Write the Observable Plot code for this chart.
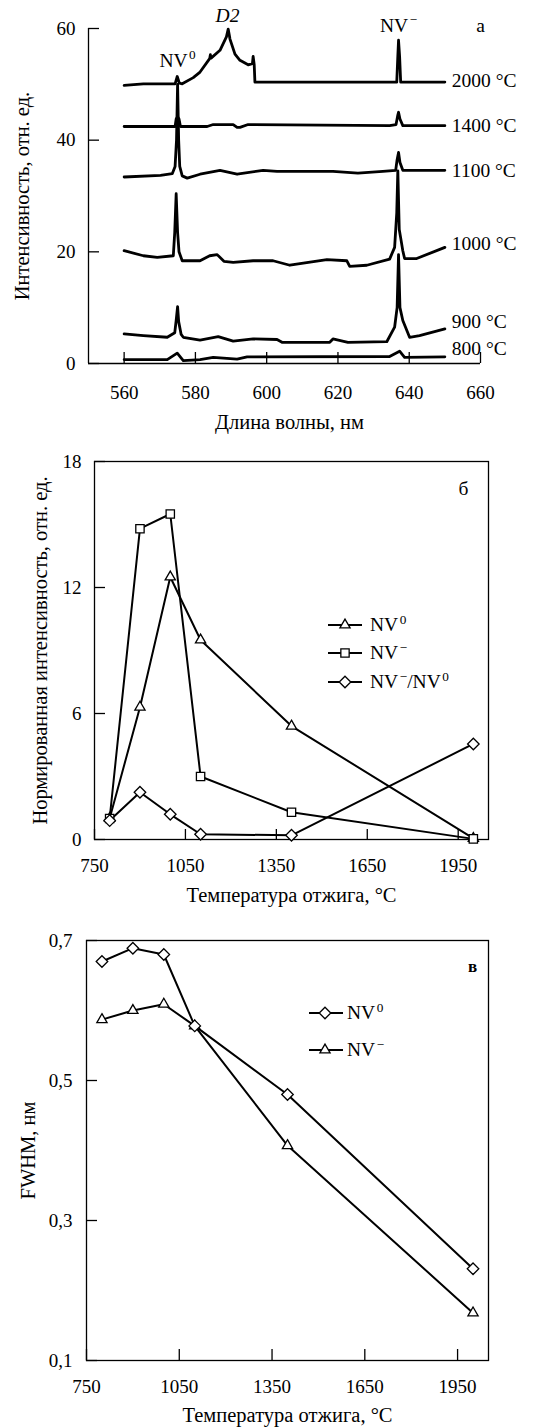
<!DOCTYPE html>
<html><head><meta charset="utf-8">
<script src="https://cdn.jsdelivr.net/npm/d3@7"></script>
<script src="https://cdn.jsdelivr.net/npm/@observablehq/plot@0.6"></script>
<style>
body{margin:0;background:#fff;}
#chart{width:558px;height:1427px;position:relative;background:#fff;}
#chart svg{position:absolute;left:0;}
</style></head><body><div id="chart"></div><script>
// ---------- Panel а: spectra (wavelength nm, intensity) ----------
const spec2000 = [[560,49.8],[565.4,50.1],[574.3,50.1],[574.9,51.4],[575.5,50.2],[576.3,50.1],[579.4,51.2],[581.3,52.2],[584.0,54.6],[584.2,55.3],[584.4,54.7],[586.9,56.1],[588.7,58.5],[589.2,59.9],[589.7,58.1],[591.1,55.4],[592.5,54.3],[594.8,53.5],[596.0,53.7],[596.2,55.0],[596.5,53.5],[596.7,50.4],[636.5,50.4],[636.8,55.0],[637.0,57.9],[637.3,55.0],[637.6,50.4],[650,50.4]];
const spec1400 = [[560,42.45],[574.3,42.45],[574.6,43.8],[575.0,44.2],[575.4,43.8],[575.8,42.45],[583.3,42.45],[585.0,42.8],[590.6,42.8],[591.7,42.3],[592.5,42.3],[594.8,42.8],[634.5,42.6],[636.3,42.8],[636.8,44.5],[637.0,45.0],[637.4,43.8],[638.2,42.6],[650,42.6]];
const spec1100 = [[560,33.4],[570.2,33.7],[573.5,34.0],[574.3,35.3],[574.7,40.0],[575.0,50.0],[575.3,40.0],[575.6,35.3],[576.3,33.6],[577.7,33.2],[581.3,33.9],[586.9,34.6],[591.7,33.9],[599.0,34.6],[602.9,34.4],[618.6,34.4],[625.6,34.1],[632.6,34.4],[636.2,34.6],[636.6,36.5],[637.0,37.8],[637.4,36.0],[638.2,34.6],[650,34.6]];
const spec1000 = [[560,20.2],[565.4,19.3],[569.3,19.0],[573.8,19.3],[574.2,23.5],[574.6,30.4],[575.0,23.5],[575.4,20.0],[576.3,18.4],[581.3,18.4],[584.0,19.3],[586.1,19.5],[588.0,18.3],[590.6,18.1],[596.2,18.4],[601.8,18.4],[606.5,17.6],[616.9,18.6],[622.5,18.4],[623.3,17.4],[628.1,17.6],[634.5,18.7],[635.9,20.8],[636.5,27.0],[636.8,34.5],[637.2,24.0],[637.6,22.5],[638.2,20.2],[638.7,18.8],[642.1,18.8],[650,20.8]];
const spec900 = [[560,5.3],[565.4,5.0],[572.1,4.7],[574.2,5.5],[574.6,7.7],[575.0,10.2],[575.3,7.5],[576.0,5.2],[576.6,4.7],[581.3,4.2],[586.4,4.8],[590.6,4.0],[596.2,4.4],[602.9,4.3],[604.3,3.8],[617.7,3.8],[618.6,4.4],[622.8,3.8],[633.7,3.9],[635.9,6.5],[636.6,10.0],[637.0,19.5],[637.4,10.0],[638.2,7.7],[640.1,4.7],[642.9,5.0],[650,6.2]];
const spec800 = [[560,0.7],[572.1,0.7],[574.9,1.85],[576.6,0.5],[581.3,0.7],[585.0,1.1],[591.7,0.8],[594.5,1.2],[634.5,1.25],[637.3,2.2],[638.7,1.1],[650,1.2]];
const specNames = ["2000 °C","1400 °C","1100 °C","1000 °C","900 °C","800 °C"];
const specList = [spec2000, spec1400, spec1100, spec1000, spec900, spec800];
const peakNames = ["NV⁰","D2","NV⁻"];
const peakWl = [575, 589, 637];
const wlTicks = [560,580,600,620,640,660];
const intTicks = [0,20,40,60];

// ---------- Panel б: normalized intensity vs annealing temperature ----------
const temps = [800,900,1000,1100,1400,2000];
const normNV0 = [1.0,6.3,12.5,9.5,5.4,0.05];
const normNVm = [1.0,14.8,15.5,3.0,1.3,0.03];
const normRatio = [0.9,2.25,1.2,0.25,0.2,4.55];
const tempTicks = [750,1050,1350,1650,1950];
const normTicks = [0,6,12,18];

// ---------- Panel в: FWHM vs annealing temperature ----------
const fwhmNV0 = [0.670,0.689,0.680,0.578,0.480,0.231];
const fwhmNVm = [0.587,0.600,0.609,0.578,0.407,0.168];
const fwhmTicks = [0.1,0.3,0.5,0.7];

// ---------- helpers ----------
const FONT = "Liberation Serif";
const TICK_FS = 19, TITLE_FS = 20.5, LABEL_FS = 19.5;
const baseStyle = {fontFamily: FONT, fontSize: "18px", color: "black", background: "transparent", overflow: "visible"};
const SVGNS = "http://www.w3.org/2000/svg";
const T = {fontFamily: FONT, textAnchor: "middle", lineAnchor: "middle"};

function supify(svg) {
  svg.querySelectorAll("text").forEach(t => {
    const s = t.textContent;
    if (!/[⁰⁻]/.test(s) || t.children.length) return;
    t.textContent = "";
    let raised = false;
    for (const part of s.match(/[⁰⁻]+|[^⁰⁻]+/g)) {
      const ts = document.createElementNS(SVGNS, "tspan");
      if (/[⁰⁻]/.test(part)) {
        ts.textContent = part.replace(/⁰/g, "0").replace(/⁻/g, "−");
        ts.setAttribute("font-size", "0.68em");
        ts.setAttribute("dy", "-0.55em");
        ts.setAttribute("dx", "1.5");
        raised = true;
      } else {
        ts.textContent = part;
        if (raised) { ts.setAttribute("dy", "0.374em"); raised = false; }
      }
      t.appendChild(ts);
    }
  });
  return svg;
}

function legendMark(items, {x0, x1, xm, xt, ys}) {
  return () => {
    const g = d3.create("svg:g");
    items.forEach((it, i) => {
      const y = ys[i];
      g.append("line").attr("x1", x0).attr("x2", x1).attr("y1", y).attr("y2", y)
        .attr("stroke", "black").attr("stroke-width", 2);
      g.append("path").attr("d", d3.symbol(it.sym, it.size)())
        .attr("transform", `translate(${xm},${y})`)
        .attr("fill", "white").attr("stroke", "black").attr("stroke-width", 1.3);
      g.append("text").attr("x", xt).attr("y", y).attr("dy", "0.32em")
        .attr("text-anchor", "start").attr("font-family", FONT)
        .attr("fill", "black").attr("font-size", LABEL_FS).text(it.label);
    });
    return g.node();
  };
}

const chart = document.getElementById("chart");
function place(svg, top) { svg.style.top = top + "px"; chart.appendChild(supify(svg)); }

// ---------- Panel а ----------
{
  const W = 558, H = 440, mL = 88, mR = 78, mT = 28, mB = 77;
  const fw = W - mL - mR, fh = H - mT - mB;
  const specData = specList.flatMap((s, i) => s.map(([x, y]) => ({x, y, t: specNames[i]})));
  const labelDy = [-1, 0, 0, -4, -7, -8];
  const peakDy = [32, -13, -3];
  const svg = Plot.plot({
    width: W, height: H, marginLeft: mL, marginRight: mR, marginTop: mT, marginBottom: mB,
    style: baseStyle,
    x: {domain: [550, 660], axis: null},
    y: {domain: [0, 60], axis: null},
    marks: [
      Plot.axisX({ticks: wlTicks, tickSize: 0, tickPadding: 22, tickFormat: d => String(d), label: null, fontSize: TICK_FS, fontFamily: FONT}),
      Plot.axisY({ticks: intTicks, tickSize: 0, tickPadding: 13, tickFormat: d => String(d), label: null, fontSize: TICK_FS, fontFamily: FONT}),
      Plot.ruleY([0], {strokeWidth: 1.3}),
      Plot.ruleX([550], {strokeWidth: 1.3}),
      Plot.ruleX(wlTicks, {x: d => d, insetTop: fh - 11, strokeWidth: 1.3}),
      Plot.ruleY(intTicks, {y: d => d, insetRight: fw - 11, strokeWidth: 1.3}),
      Plot.line(specData, {x: "x", y: "y", z: "t", stroke: "black", strokeWidth: 2.8, strokeLinejoin: "round"}),
      ...specList.map((s, i) => Plot.text([s], {...T, x: d => d[d.length - 1][0], y: d => d[d.length - 1][1], text: () => specNames[i], textAnchor: "start", dx: 7, dy: labelDy[i], fontSize: LABEL_FS})),
      ...peakNames.map((n, i) => Plot.text([n], {...T, x: () => peakWl[i], frameAnchor: "top", text: d => d, dy: peakDy[i], fontSize: LABEL_FS, fontStyle: n === "D2" ? "italic" : "normal"})),
      Plot.text(["а"], {...T, frameAnchor: "top-right", text: d => d, dy: -3, fontSize: LABEL_FS}),
      Plot.text(["Длина волны, нм"], {...T, frameAnchor: "bottom", text: d => d, dy: 59, dx: 5, fontSize: TITLE_FS}),
      Plot.text(["Интенсивность, отн. ед."], {...T, frameAnchor: "left", text: d => d, rotate: -90, dx: -66, fontSize: TITLE_FS})
    ]
  });
  place(svg, 0);
}

// ---------- Panel б ----------
{
  const W = 558, H = 470, mL = 94, mR = 70, mT = 21, mB = 71;
  const fw = W - mL - mR, fh = H - mT - mB;
  const rows = temps.map((t, i) => ({t, nv0: normNV0[i], nvm: normNVm[i], r: normRatio[i]}));
  const svg = Plot.plot({
    width: W, height: H, marginLeft: mL, marginRight: mR, marginTop: mT, marginBottom: mB,
    style: baseStyle,
    x: {domain: [750, 2050], axis: null},
    y: {domain: [0, 18], axis: null},
    marks: [
      Plot.axisX({ticks: tempTicks, tickSize: 0, tickPadding: 19, tickFormat: d => String(d), label: null, fontSize: TICK_FS, fontFamily: FONT}),
      Plot.axisY({ticks: normTicks, tickSize: 0, tickPadding: 13, tickFormat: d => String(d), label: null, fontSize: TICK_FS, fontFamily: FONT}),
      Plot.frame({strokeWidth: 1.3}),
      Plot.ruleX(tempTicks, {x: d => d, insetTop: fh - 10, strokeWidth: 1.3}),
      Plot.ruleY(normTicks, {y: d => d, insetRight: fw - 11, strokeWidth: 1.3}),
      Plot.line(rows, {x: "t", y: "nv0", stroke: "black", strokeWidth: 2}),
      Plot.line(rows, {x: "t", y: "nvm", stroke: "black", strokeWidth: 2}),
      Plot.line(rows, {x: "t", y: "r", stroke: "black", strokeWidth: 2}),
      Plot.dot(rows, {x: "t", y: "nv0", symbol: "triangle", r: 3.8, fill: "white", stroke: "black", strokeWidth: 1.3}),
      Plot.dot(rows, {x: "t", y: "nvm", symbol: "square", r: 4.7, fill: "white", stroke: "black", strokeWidth: 1.3}),
      Plot.dot(rows, {x: "t", y: "r", symbol: "diamond2", r: 5.2, fill: "white", stroke: "black", strokeWidth: 1.3}),
      legendMark([
        {sym: d3.symbolTriangle, size: 45, label: "NV⁰"},
        {sym: d3.symbolSquare, size: 69, label: "NV⁻"},
        {sym: d3.symbolDiamond2, size: 85, label: "NV⁻/NV⁰"}
      ], {x0: 328, x1: 362, xm: 345, xt: 370, ys: [185, 213, 242]}),
      Plot.text(["б"], {...T, frameAnchor: "top-right", text: d => d, dx: -25, dy: 27, fontSize: LABEL_FS}),
      Plot.text(["Температура отжига, °C"], {...T, frameAnchor: "bottom", text: d => d, dy: 56, fontSize: TITLE_FS}),
      Plot.text(["Нормированная интенсивность, отн. ед."], {...T, frameAnchor: "left", text: d => d, rotate: -90, dx: -54, fontSize: TITLE_FS})
    ]
  });
  place(svg, 440);
}

// ---------- Panel в ----------
{
  const W = 558, H = 517, mL = 86, mR = 70, mT = 30, mB = 67;
  const fw = W - mL - mR, fh = H - mT - mB;
  const rows = temps.map((t, i) => ({t, nv0: fwhmNV0[i], nvm: fwhmNVm[i]}));
  const comma = d => d.toFixed(1).replace(".", ",");
  const svg = Plot.plot({
    width: W, height: H, marginLeft: mL, marginRight: mR, marginTop: mT, marginBottom: mB,
    style: baseStyle,
    x: {domain: [750, 2050], axis: null},
    y: {domain: [0.1, 0.7], axis: null},
    marks: [
      Plot.axisX({ticks: tempTicks, tickSize: 0, tickPadding: 19, tickFormat: d => String(d), label: null, fontSize: TICK_FS, fontFamily: FONT}),
      Plot.axisY({ticks: fwhmTicks, tickSize: 0, tickPadding: 14, tickFormat: comma, label: null, fontSize: TICK_FS, fontFamily: FONT}),
      Plot.frame({strokeWidth: 1.3}),
      Plot.ruleX(tempTicks, {x: d => d, insetTop: fh - 11, strokeWidth: 1.3}),
      Plot.ruleY(fwhmTicks, {y: d => d, insetRight: fw - 11, strokeWidth: 1.3}),
      Plot.line(rows, {x: "t", y: "nv0", stroke: "black", strokeWidth: 2}),
      Plot.line(rows, {x: "t", y: "nvm", stroke: "black", strokeWidth: 2}),
      Plot.dot(rows, {x: "t", y: "nvm", symbol: "triangle", r: 3.8, fill: "white", stroke: "black", strokeWidth: 1.3}),
      Plot.dot(rows, {x: "t", y: "nv0", symbol: "diamond2", r: 5.2, fill: "white", stroke: "black", strokeWidth: 1.3}),
      legendMark([
        {sym: d3.symbolDiamond2, size: 85, label: "NV⁰"},
        {sym: d3.symbolTriangle, size: 45, label: "NV⁻"}
      ], {x0: 309, x1: 343, xm: 325, xt: 347, ys: [103, 140]}),
      Plot.text(["в"], {...T, frameAnchor: "top-right", text: d => d, dx: -16, dy: 26, fontSize: 17, fontWeight: "bold"}),
      Plot.text(["Температура отжига, °C"], {...T, frameAnchor: "bottom", text: d => d, dy: 55, fontSize: TITLE_FS}),
      Plot.text(["FWHM, нм"], {...T, frameAnchor: "left", text: d => d, rotate: -90, dx: -58, fontSize: TITLE_FS})
    ]
  });
  place(svg, 910);
}
</script></body></html>
